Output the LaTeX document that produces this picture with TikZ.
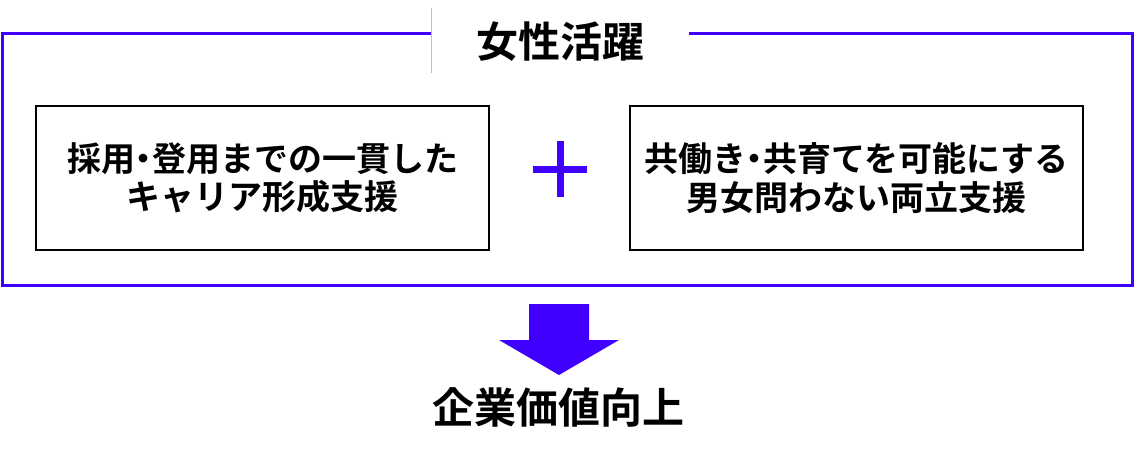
\documentclass[tikz,border=0pt]{standalone}
\usepackage{fontspec}
\newfontfamily\jpfont{Noto Sans CJK JP}[BoldFont={Noto Sans CJK JP Bold}]
\usetikzlibrary{positioning}
\definecolor{violetblue}{RGB}{64,0,255}
\newcommand{\middot}{\makebox[0.5em]{・}}

\begin{document}
\begin{tikzpicture}[x=1pt, y=-1pt,
supportbox/.style={rectangle, draw=black, line width=2pt, minimum width=453pt, minimum height=144pt, inner sep=0pt, align=center, font=\jpfont\bfseries\fontsize{34}{38.5}\selectfont},
titletext/.style={inner sep=0pt, font=\jpfont\bfseries\fontsize{42}{46}\selectfont},
frameline/.style={draw=violetblue, line width=3pt},
]
\useasboundingbox (0,0) rectangle (1135,461);

\node[titletext]   (title)    at (560,41.5) {女性活躍};
\node[supportbox]  (career)   at (262.5,178) {採用\middot 登用までの一貫した\\キャリア形成支援};
\node[supportbox]  (balance)  [right=139pt of career] {共働き\middot 共育てを可能にする\\男女問わない両立支援};
\node[titletext]   (result)   at (558.5,407.5) {企業価値向上};

%Frame
\coordinate (gapleft)  at (431,33);
\coordinate (gapright) at (689,33);
\draw[frameline] (gapleft) -- (2.5,33) -- (2.5,285) -- (1132,285) -- (1132,33) -- (gapright);
\draw[draw={rgb,255:red,192;green,192;blue,192}, line width=1pt] (431,8) -- (431,73);

%Plus
\coordinate (plus) at (560,169);
\draw[violetblue, line width=7pt] ([xshift=-27pt]plus) -- ([xshift=27pt]plus);
\draw[violetblue, line width=7pt] ([yshift=-28pt]plus) -- ([yshift=28pt]plus);

%Arrow
\fill[violetblue] (529,304) -- (589,304) -- (589,340) -- (619,340) -- (559,375) -- (499,340) -- (529,340) -- cycle;
\end{tikzpicture}
\end{document}
